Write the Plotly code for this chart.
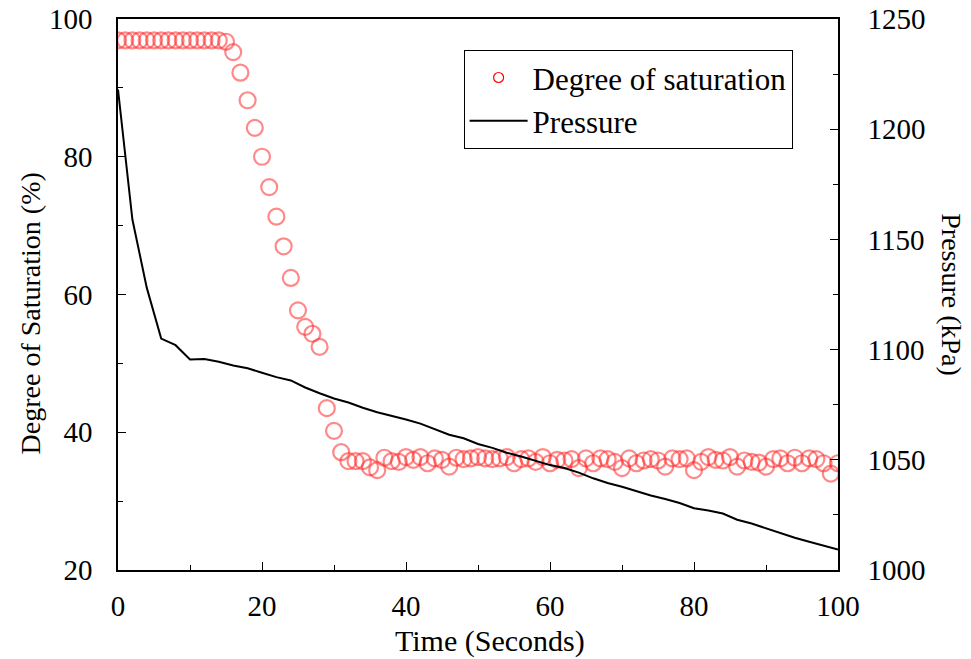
import plotly.graph_objects as go

time_sat = list(range(0, 101))
saturation = [
    96.9, 96.9, 96.9, 96.9, 96.9, 96.9, 96.9, 96.9, 96.9, 96.9,
    96.9, 96.9, 96.9, 96.9, 96.9, 96.7, 95.2, 92.2, 88.2, 84.2,
    80.0, 75.6, 71.3, 67.0, 62.4, 57.7, 55.3, 54.3, 52.4, 43.5,
    40.2, 37.1, 35.8, 35.8, 35.8, 34.9, 34.5, 36.3, 35.8, 35.7,
    36.4, 36.0, 36.4, 35.5, 36.2, 36.0, 35.0, 36.3, 36.1, 36.2,
    36.4, 36.2, 36.1, 36.2, 36.4, 35.5, 36.1, 36.2, 35.7, 36.4,
    35.5, 36.0, 35.9, 36.1, 34.8, 36.2, 35.5, 36.2, 36.1, 35.7,
    34.8, 36.2, 35.5, 35.9, 36.1, 35.9, 35.0, 36.2, 36.1, 36.2,
    34.5, 35.7, 36.4, 36.0, 35.9, 36.4, 35.0, 35.9, 35.7, 35.6,
    35.0, 36.1, 36.2, 35.5, 36.3, 35.5, 36.2, 36.1, 35.5, 34.0,
    35.5,
]

time_p = list(range(0, 101, 2))
pressure = [
    1218, 1159, 1128, 1105, 1102, 1095.5, 1095.7, 1094.5, 1092.8, 1091.5,
    1089.5, 1087.5, 1086, 1082.8, 1080.2, 1077.8, 1076, 1073.6, 1071.6, 1070,
    1068.3, 1066.4, 1063.8, 1061.4, 1059.8, 1057.2, 1055.4, 1053.2, 1051.5, 1049.4,
    1047.6, 1046.3, 1044.2, 1041.6, 1039.5, 1037.8, 1035.8, 1033.8, 1032.2, 1030.4,
    1028, 1027, 1025.6, 1022.8, 1021.1, 1019, 1016.6, 1014.6, 1012.8, 1011.1,
    1009.3,
]

FONT = "Liberation Serif, Times New Roman, serif"
RED = "rgba(255,40,40,0.55)"

fig = go.Figure()

fig.add_trace(go.Scatter(
    x=time_p, y=pressure, mode="lines", yaxis="y2",
    line=dict(color="black", width=2), showlegend=False,
))
fig.add_trace(go.Scatter(
    x=time_sat, y=saturation, mode="markers",
    marker=dict(symbol="circle-open", size=16, color=RED, line=dict(width=2.2, color=RED)),
    showlegend=False,
))
# legend entries
fig.add_trace(go.Scatter(
    x=[None], y=[None], mode="markers", name="Degree of saturation",
    marker=dict(symbol="circle-open", size=10, color="red", line=dict(width=1.2, color="red")),
))
fig.add_trace(go.Scatter(
    x=[None], y=[None], mode="lines", name="Pressure",
    line=dict(color="black", width=2),
))

TICKFONT = dict(family=FONT, size=29, color="black")
axis_common = dict(
    showline=True, linecolor="black", linewidth=1.5,
    ticks="inside", ticklen=8, tickwidth=1.2, tickcolor="black",
    showgrid=False, zeroline=False, automargin=False,
    tickfont=TICKFONT,
)
minor_common = dict(ticks="inside", ticklen=5, tickcolor="black", tickwidth=1.2)

fig.update_layout(
    width=971, height=659,
    margin=dict(l=118, r=133, t=19, b=89, autoexpand=False),
    paper_bgcolor="white", plot_bgcolor="white",
    font=dict(family=FONT, size=30, color="black"),
    xaxis=dict(
        range=[0, 100], dtick=20, mirror=True,
        minor=dict(dtick=10, **minor_common),
        ticklabelstandoff=9,
        **axis_common,
    ),
    yaxis=dict(
        range=[20, 100], dtick=20, mirror=False,
        minor=dict(dtick=10, **minor_common),
        ticklabelstandoff=18,
        **axis_common,
    ),
    yaxis2=dict(
        range=[1000, 1250], dtick=50, overlaying="y", side="right",
        minor=dict(dtick=25, **minor_common),
        ticklabelstandoff=22,
        **axis_common,
    ),
    legend=dict(
        x=0.48, y=0.944, xanchor="left", yanchor="top",
        bgcolor="white", bordercolor="black", borderwidth=1,
        font=dict(family=FONT, size=31, color="black"),
        itemwidth=58, tracegroupgap=0,
    ),
    annotations=[
        dict(text="Time (Seconds)", xref="paper", yref="paper", x=0.517, y=-0.129,
             xanchor="center", yanchor="middle", showarrow=False,
             font=dict(family=FONT, size=30, color="black")),
        dict(text="Degree of Saturation (%)", xref="paper", yref="paper", x=-0.122, y=0.466,
             xanchor="center", yanchor="middle", textangle=-90, showarrow=False,
             font=dict(family=FONT, size=28, color="black")),
        dict(text="Pressure (kPa)", xref="paper", yref="paper", x=1.158, y=0.499,
             xanchor="center", yanchor="middle", textangle=90, showarrow=False,
             font=dict(family=FONT, size=28, color="black")),
    ],
)

fig.write_html(
    "out.html",
    config={"displayModeBar": False},
    post_script="document.body.style.margin='0';document.body.style.padding='0';",
)
